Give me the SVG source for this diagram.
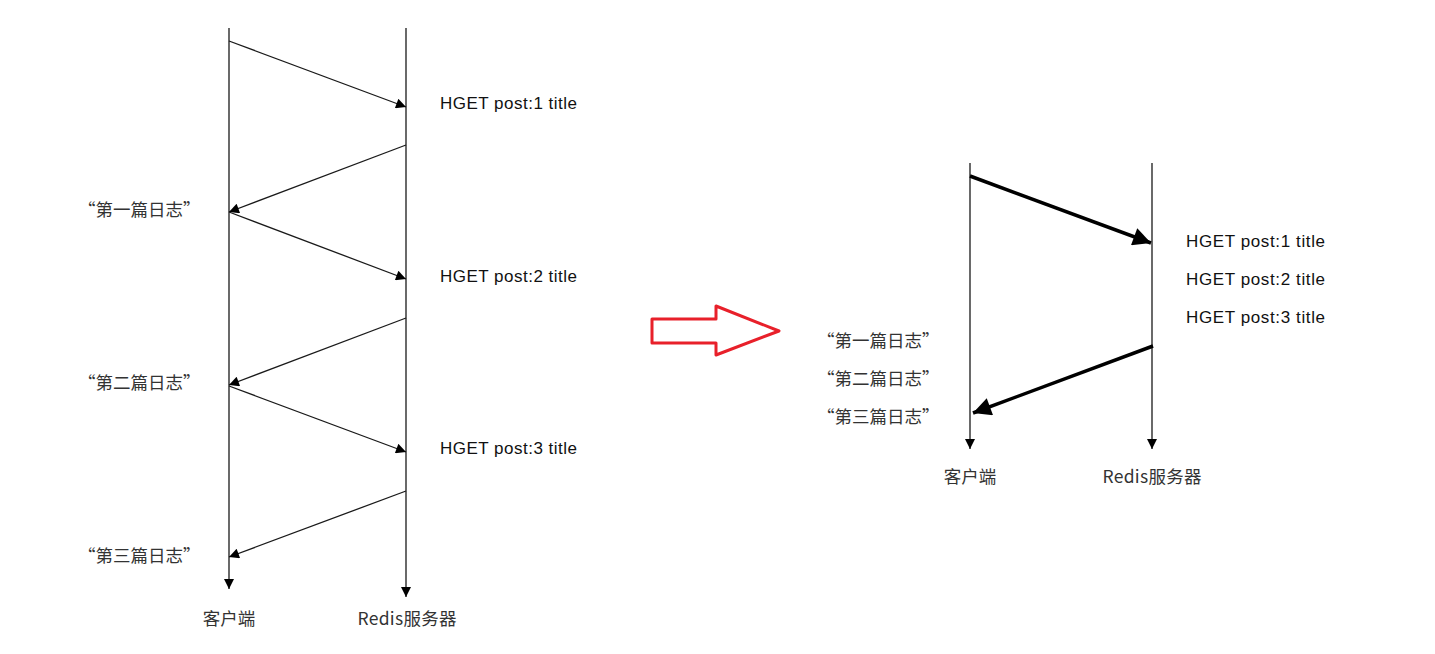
<svg xmlns="http://www.w3.org/2000/svg" width="1435" height="654" viewBox="0 0 1435 654">
<defs>
<style>
.ln{stroke:#1a1a1a;stroke-width:1.3;fill:none}
.tk{stroke:#000;stroke-width:3.5;fill:none}
.en{font-family:"Liberation Sans",Arial,sans-serif;font-size:17px;fill:#111}
.cn{font-family:"Noto Sans CJK SC","Noto Sans",sans-serif;font-size:17.5px;fill:#333}
</style>
<marker id="ah" viewBox="0 0 10 10" refX="10" refY="5" markerWidth="14" markerHeight="10" markerUnits="userSpaceOnUse" orient="auto"><path d="M0,0L10,5L0,10z" fill="#000"/></marker>
<marker id="ahk" viewBox="0 0 10 10" refX="10" refY="5" markerWidth="24" markerHeight="18" markerUnits="userSpaceOnUse" orient="auto"><path d="M0,0L10,5L0,10z" fill="#000"/></marker>
</defs>
<rect width="1435" height="654" fill="#fff"/>
<g id="connectors">
<line class="ln" x1="229" y1="28" x2="229" y2="589" marker-end="url(#ah)"/>
<line class="ln" x1="406" y1="28" x2="406" y2="597" marker-end="url(#ah)"/>
<line class="ln" x1="229" y1="41" x2="406" y2="107" marker-end="url(#ah)"/>
<line class="ln" x1="406" y1="145" x2="229" y2="212" marker-end="url(#ah)"/>
<line class="ln" x1="229" y1="212" x2="406" y2="279" marker-end="url(#ah)"/>
<line class="ln" x1="406" y1="318" x2="229" y2="385" marker-end="url(#ah)"/>
<line class="ln" x1="229" y1="386" x2="406" y2="452" marker-end="url(#ah)"/>
<line class="ln" x1="406" y1="491" x2="229" y2="557" marker-end="url(#ah)"/>
<line class="ln" x1="970" y1="163" x2="970" y2="449" marker-end="url(#ah)"/>
<line class="ln" x1="1152" y1="163" x2="1152" y2="449" marker-end="url(#ah)"/>
<line class="tk" x1="970" y1="176" x2="1151" y2="243" marker-end="url(#ahk)"/>
<line class="tk" x1="1153" y1="346" x2="973" y2="413" marker-end="url(#ahk)"/>
</g>
<g id="red-arrow">
<polygon points="652,319 716,319 716,306 779,331 716,355 716,343 652,343" fill="none" stroke="#e8202a" stroke-width="3" stroke-linejoin="round"/>
</g>
<g id="left-labels">
<text class="en" x="440" y="109" textLength="137">HGET post:1 title</text>
<text class="en" x="440" y="282" textLength="137">HGET post:2 title</text>
<text class="en" x="440" y="454" textLength="137">HGET post:3 title</text>
<text class="cn" x="78" y="216">“第一篇日志”</text>
<text class="cn" x="78" y="389">“第二篇日志”</text>
<text class="cn" x="78" y="562">“第三篇日志”</text>
<text class="cn" x="229" y="625" text-anchor="middle">客户端</text>
<text class="cn" x="407" y="625" text-anchor="middle" textLength="99">Redis服务器</text>
</g>
<g id="right-labels">
<text class="en" x="1186" y="247" textLength="139">HGET post:1 title</text>
<text class="en" x="1186" y="285" textLength="139">HGET post:2 title</text>
<text class="en" x="1186" y="323" textLength="139">HGET post:3 title</text>
<text class="cn" x="817" y="347">“第一篇日志”</text>
<text class="cn" x="817" y="385">“第二篇日志”</text>
<text class="cn" x="817" y="423">“第三篇日志”</text>
<text class="cn" x="970" y="483" text-anchor="middle">客户端</text>
<text class="cn" x="1152" y="483" text-anchor="middle" textLength="99">Redis服务器</text>
</g>
</svg>
